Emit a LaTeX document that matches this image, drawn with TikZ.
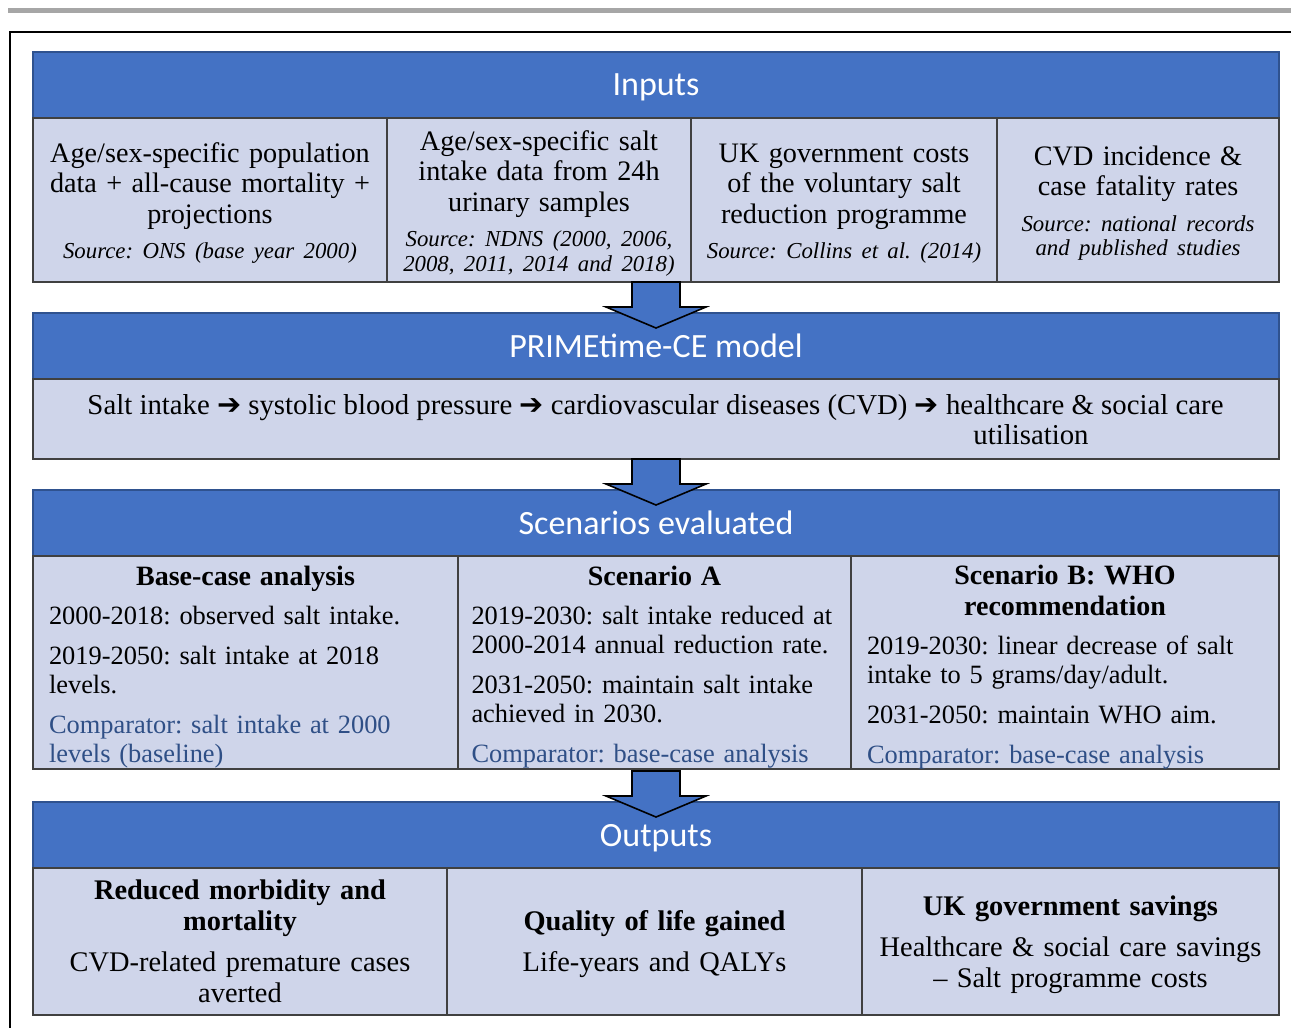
\documentclass[tikz,border=0pt]{standalone}
\usepackage{fontspec}
\setmainfont{Liberation Serif}
\newfontfamily\headfont{Carlito}
\newfontfamily\symfont{DejaVu Sans}
\usepackage{tikz}
\usetikzlibrary{calc,positioning}
\definecolor{hdblue}{HTML}{4472C4}
\definecolor{hdedge}{HTML}{2F528F}
\definecolor{cellfill}{HTML}{CFD5EA}
\definecolor{celledge}{HTML}{404040}
\definecolor{cmpblue}{HTML}{2F4F86}
\definecolor{rulegray}{HTML}{A6A6A6}
\newcommand{\infont}{\fontsize{14.1}{15.25}\selectfont}
\newcommand{\srcfont}{\fontsize{11.4}{12.25}\selectfont\itshape}
\newcommand{\scfont}{\fontsize{13.2}{14.5}\selectfont}
\newcommand{\scttl}{\fontsize{14}{15.5}\selectfont\bfseries}
\newcommand{\outfont}{\fontsize{14.2}{15.5}\selectfont}
\newcommand{\thn}{{\symfont ➔}}
\newcommand{\cmp}[1]{{\color{cmpblue}#1\par}}
\newcommand{\lift}[1]{\rule{0pt}{#1}}
% block arrow pointing into a header
\newcommand{\fatarrow}[1]{%
\draw[fatarr] ($(#1.north)+(-24,-31)$) -- ($(#1.north)+(24,-31)$)
 -- ($(#1.north)+(24,-6)$) -- ($(#1.north)+(50,-6)$) -- ($(#1.north)+(0,15)$)
 -- ($(#1.north)+(-50,-6)$) -- ($(#1.north)+(-24,-6)$) -- cycle;}
\tikzset{
 hd/.style={draw=hdedge, fill=hdblue, line width=0.8pt, text=white,
  font=\headfont\fontsize{17}{20}\selectfont, minimum width=623pt,
  minimum height=33pt, text depth=0pt, anchor=north west, inner sep=0pt, outer sep=0pt},
 cell/.style={draw=celledge, fill=cellfill, line width=0.8pt, anchor=north west,
  inner sep=0pt, outer sep=0pt, align=center},
 incell/.style={cell, minimum height=82pt, font=\infont},
 sccell/.style={cell, minimum height=106.5pt, font=\scfont, align=left},
 outcell/.style={cell, minimum height=73.5pt, font=\outfont},
 fatarr/.style={draw=black, fill=hdblue, line width=0.8pt, line join=miter}
}
\begin{document}
\frenchspacing
\begin{tikzpicture}[x=0.5pt, y=-0.5pt]
\useasboundingbox (0,0) rectangle (1291,1028);
\draw[rulegray, line width=2.5pt] (8,10) -- (1291,10);
\draw[line width=1pt] (10,1028) -- (10,32) -- (1291,32);

% inputs
\node[hd] (hin) at (33,52) {Inputs};
\node[incell, minimum width=177pt, text width=172pt] (in1) at (hin.south west)
 {\lift{13pt}Age/sex-specific population\\ data + all-cause mortality +\\ projections\par
  \vspace{5.5pt}{\srcfont Source: ONS (base year 2000)\par}};
\node[incell, minimum width=152pt, text width=148pt, right=0pt of in1] (in2)
 {\lift{13pt}Age/sex-specific salt\\ intake data from 24h\\ urinary samples\par
  \vspace{5.5pt}{\srcfont Source: NDNS (2000, 2006,\\ 2008, 2011, 2014 and 2018)\par}};
\node[incell, minimum width=153pt, text width=148pt, right=0pt of in2] (in3)
 {\lift{13pt}UK government costs\\ of the voluntary salt\\ reduction programme\par
  \vspace{5.5pt}{\srcfont Source: Collins et al. (2014)\par}};
\node[incell, minimum width=141pt, text width=137pt, right=0pt of in3] (in4)
 {\lift{13pt}CVD incidence \&\\ case fatality rates\par
  \vspace{5.5pt}{\srcfont Source: national records\\ and published studies\par}};

% model
\node[hd] (hmod) at (33,313) {PRIMEtime-CE model};
\node[cell, minimum width=623pt, minimum height=40pt] (mod) at (hmod.south west) {};
\node[font=\fontsize{14.4}{15.5}\selectfont, inner sep=0pt] (chain) at (655.5,407.5)
 {Salt intake \thn{} systolic blood pressure \thn{} cardiovascular diseases (CVD) \thn{} healthcare \& social care};
\node[font=\fontsize{14.4}{15.5}\selectfont, inner sep=0pt] (util) at (1031,435) {utilisation};

% scenarios
\node[hd] (hscen) at (33,490) {Scenarios evaluated};
\node[sccell, minimum width=212.5pt, text width=196.5pt] (sc1) at (hscen.south west)
 {{\centering\scttl\lift{14pt}Base-case analysis\par}\vspace{5pt}
  2000-2018: observed salt intake.\par\vspace{5.5pt}
  2019-2050: salt intake at 2018\\ levels.\par\vspace{5.5pt}
  \cmp{Comparator: salt intake at 2000\\ levels (baseline)}};
\node[sccell, minimum width=196.5pt, text width=183pt, right=0pt of sc1] (sc2)
 {{\centering\scttl\lift{14pt}Scenario A\par}\vspace{5pt}
  2019-2030: salt intake reduced at\\ 2000-2014 annual reduction rate.\par\vspace{5.5pt}
  2031-2050: maintain salt intake\\ achieved in 2030.\par\vspace{5.5pt}
  \cmp{Comparator: base-case analysis}};
\node[sccell, minimum width=214pt, text width=198pt, right=0pt of sc2] (sc3)
 {{\centering\scttl\lift{14pt}Scenario B: WHO\\ recommendation\par}\vspace{5pt}
  2019-2030: linear decrease of salt\\ intake to 5 grams/day/adult.\par\vspace{5.5pt}
  2031-2050: maintain WHO aim.\par\vspace{5.5pt}
  \cmp{Comparator: base-case analysis}};

% outputs
\node[hd] (hout) at (33,802) {Outputs};
\node[outcell, minimum width=207pt, text width=200pt] (out1) at (hout.south west)
 {{\bfseries Reduced morbidity and\\ mortality\par}\vspace{5pt}
  CVD-related premature cases\\ averted\par};
\node[outcell, minimum width=207.5pt, text width=200pt, right=0pt of out1] (out2)
 {{\bfseries\lift{13pt}Quality of life gained\par}\vspace{5pt}
  Life-years and QALYs\par};
\node[outcell, minimum width=208.5pt, text width=200pt, right=0pt of out2] (out3)
 {{\bfseries\lift{13pt}UK government savings\par}\vspace{5pt}
  Healthcare \& social care savings\\ -- Salt programme costs\par};

\fatarrow{hmod}
\fatarrow{hscen}
\fatarrow{hout}
\end{tikzpicture}
\end{document}
